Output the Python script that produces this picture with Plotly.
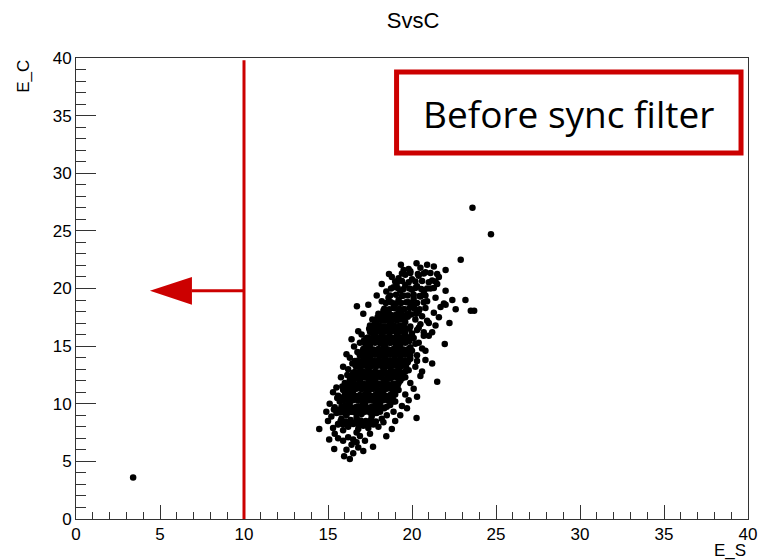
import plotly.graph_objects as go

# Event energies: scintillation (E_S) vs Cherenkov (E_C)
E_S = [
    15.96, 16.3, 16.5, 16.1, 15.37, 17.68, 16.8, 16.4, 17.1, 16.7,
    15.07, 15.6, 15.9, 16.2, 16.5, 16.9, 17.2, 18.47, 15.4, 16.7, 17.5,
    14.48, 15.3, 15.6, 15.9, 16.2, 16.5, 16.8, 17.1, 17.4, 17.7, 18.0, 18.3, 20.27,
    15.2, 15.5, 15.8, 16.1, 16.4, 16.7, 17.0, 17.3, 17.6, 17.9, 18.2, 18.5, 18.9, 19.3,
    15.1, 15.4, 15.7, 16.0, 16.3, 16.6, 16.9, 17.2, 17.5, 17.8, 18.1, 18.4, 18.7, 19.0, 19.4, 19.8,
    15.3, 15.6, 15.9, 16.2, 16.5, 16.8, 17.1, 17.4, 17.7, 18.0, 18.3, 18.6, 18.9, 19.2, 19.6, 20.1,
    15.77, 16.0, 16.3, 16.6, 16.9, 17.2, 17.5, 17.8, 18.1, 18.4, 18.7, 19.0, 19.3, 19.6, 19.9, 21.5,
    16.2, 16.5, 16.8, 17.1, 17.4, 17.7, 18.0, 18.3, 18.6, 18.9, 19.2, 19.5, 19.8, 20.2, 20.6,
    16.3, 16.6, 16.9, 17.2, 17.5, 17.8, 18.1, 18.4, 18.7, 19.0, 19.3, 19.6, 19.9, 20.3, 20.8,
    16.55, 16.9, 17.2, 17.5, 17.8, 18.1, 18.4, 18.7, 19.0, 19.3, 19.6, 19.9, 20.2, 20.6, 21.95,
    17.0, 17.3, 17.6, 17.9, 18.2, 18.5, 18.8, 19.1, 19.4, 19.7, 20.0, 20.3, 20.7, 21.2,
    17.64, 17.5, 17.8, 18.1, 18.4, 18.7, 19.0, 19.3, 19.6, 19.9, 20.2, 20.5, 20.9, 22.23, 21.4,
    16.72, 18.0, 18.3, 18.6, 18.9, 19.2, 19.5, 19.8, 20.1, 20.4, 20.8, 21.3, 21.7, 23.5, 23.7,
    18.2, 18.6, 18.9, 19.2, 19.5, 19.8, 20.1, 20.5, 20.9, 21.4, 21.9, 23.18, 22.4,
    18.47, 18.9, 19.3, 19.6, 20.0, 20.3, 20.7, 21.1, 21.5, 22.0, 19.1,
    18.63, 19.2, 19.6, 20.0, 20.4, 20.8, 21.2, 21.6, 22.0, 19.9,
    19.34, 20.27, 20.9, 19.8, 20.5, 21.3, 22.9, 23.6, 24.7, 3.4,
    15.75, 16.05, 16.35, 16.65, 16.95, 17.25, 17.55, 17.85,
    15.35, 15.65, 15.95, 16.25, 16.55, 16.85, 17.15, 17.45, 17.75, 18.05, 18.35,
    15.55, 15.85, 16.15, 16.45, 16.75, 17.05, 17.35, 17.65, 17.95, 18.25, 18.55, 18.85,
    15.85, 16.15, 16.45, 16.75, 17.05, 17.35, 17.65, 17.95, 18.25, 18.55, 18.85, 19.15,
    16.15, 16.45, 16.75, 17.05, 17.35, 17.65, 17.95, 18.25, 18.55, 18.85, 19.15, 19.45,
    16.45, 16.75, 17.05, 17.35, 17.65, 17.95, 18.25, 18.55, 18.85, 19.15, 19.45, 19.75,
    16.75, 17.05, 17.35, 17.65, 17.95, 18.25, 18.55, 18.85, 19.15, 19.45, 19.75,
    17.15, 17.45, 17.75, 18.05, 18.35, 18.65, 18.95, 19.25, 19.55, 19.85,
    17.45, 17.75, 18.05, 18.35, 18.65, 18.95, 19.25, 19.55, 19.85,
    17.95, 18.25, 18.55, 18.85, 19.15, 19.45, 19.75,
    15.6, 15.9, 16.2, 16.5, 16.8, 17.1, 17.4, 17.7,
    15.7, 16.0, 16.3, 16.6, 16.9, 17.2, 17.5, 17.8, 18.1,
    15.8, 16.1, 16.4, 16.7, 17.0, 17.3, 17.6, 17.9, 18.2, 18.5,
    15.9, 16.2, 16.5, 16.8, 17.1, 17.4, 17.7, 18.0, 18.3, 18.6, 18.9,
    16.0, 16.3, 16.6, 16.9, 17.2, 17.5, 17.8, 18.1, 18.4, 18.7, 19.0,
    16.1, 16.4, 16.7, 17.0, 17.3, 17.6, 17.9, 18.2, 18.5, 18.8, 19.1,
    16.2, 16.5, 16.8, 17.1, 17.4, 17.7, 18.0, 18.3, 18.6, 18.9, 19.2,
    16.4, 16.7, 17.0, 17.3, 17.6, 17.9, 18.2, 18.5, 18.8, 19.1, 19.4,
    16.6, 16.9, 17.2, 17.5, 17.8, 18.1, 18.4, 18.7, 19.0, 19.3, 19.6,
    16.65, 16.95, 17.25, 17.55, 17.85, 18.15, 18.45, 18.75, 19.05, 19.35, 19.65,
    16.8, 17.1, 17.4, 17.7, 18.0, 18.3, 18.6, 18.9, 19.2, 19.5, 19.8,
    16.9, 17.2, 17.5, 17.8, 18.1, 18.4, 18.7, 19.0, 19.3, 19.6, 19.9,
    17.1, 17.4, 17.7, 18.0, 18.3, 18.6, 18.9, 19.2, 19.5, 19.8,
    17.2, 17.5, 17.8, 18.1, 18.4, 18.7, 19.0, 19.3, 19.6,
    17.4, 17.7, 18.0, 18.3, 18.6, 18.9, 19.2, 19.5, 19.8,
    17.5, 17.8, 18.1, 18.4, 18.7, 19.0, 19.3, 19.6,
    17.7, 18.0, 18.3, 18.6, 18.9, 19.2, 19.5,
    17.9, 18.2, 18.5, 18.8, 19.1, 19.4,
    15.9, 16.1, 16.4, 16.8, 17.1, 17.4, 17.9, 18.2, 18.8, 19.5, 21.6, 22.0,
    22.6, 21.0, 20.8, 21.2, 20.5, 20.3, 19.7, 19.0, 18.8, 15.0, 14.9, 15.5,
    18.15, 18.45, 18.75, 19.05, 19.35, 19.65, 19.95, 20.25,
    18.35, 18.65, 18.95, 19.25, 19.55, 19.85, 20.15, 20.45,
    18.45, 18.75, 19.05, 19.35, 19.65, 19.95, 20.3, 20.7,
    18.7, 19.05, 19.4, 19.75, 20.1, 20.45, 20.8,
    18.75, 19.15, 19.5, 19.85, 20.2, 20.55, 20.9, 21.3,
    19.0, 19.4, 19.8, 20.2, 20.6, 21.0, 21.4,
    19.4, 19.9, 20.35, 20.7, 21.1, 21.5,
    20.1, 20.4, 20.6, 20.0, 20.4, 20.7, 21.0, 20.3,
]
E_C = [
    5.44, 5.2, 5.7, 6.0, 6.08, 6.26, 6.2, 6.45, 5.9, 6.65,
    6.9, 7.0, 6.8, 7.1, 6.9, 7.2, 6.8, 7.18, 7.4, 7.5, 7.4,
    7.8, 7.9, 8.2, 7.7, 8.0, 8.3, 7.8, 8.1, 7.9, 8.3, 8.0, 8.4, 8.77,
    8.9, 9.2, 8.7, 9.0, 9.3, 8.8, 9.1, 9.4, 8.9, 9.2, 8.7, 9.0, 9.3, 9.0,
    10.0, 9.7, 10.2, 9.8, 10.1, 10.4, 9.7, 10.0, 10.3, 9.8, 10.1, 10.4, 9.9, 10.2, 9.8, 10.3,
    11.0, 10.7, 11.2, 10.8, 11.1, 11.4, 10.7, 11.0, 11.3, 10.8, 11.1, 11.4, 10.9, 11.2, 10.8, 11.3,
    12.3, 11.8, 12.1, 11.7, 12.0, 12.3, 11.8, 12.1, 12.4, 11.9, 12.2, 11.7, 12.0, 12.3, 11.8, 11.9,
    13.0, 12.7, 13.2, 12.8, 13.1, 13.4, 12.7, 13.0, 13.3, 12.8, 13.1, 13.4, 12.9, 13.2, 12.8,
    14.0, 13.7, 14.2, 13.8, 14.1, 14.4, 13.7, 14.0, 14.3, 13.8, 14.1, 14.4, 13.9, 14.2, 13.8,
    14.97, 15.3, 14.8, 15.1, 15.4, 14.7, 15.0, 15.3, 14.8, 15.1, 15.4, 14.9, 15.2, 14.8, 15.18,
    16.0, 15.7, 16.2, 15.8, 16.1, 16.4, 15.7, 16.0, 16.3, 15.8, 16.1, 16.4, 15.9, 16.2,
    17.3, 16.8, 17.0, 16.7, 17.2, 16.9, 17.4, 16.8, 17.1, 16.7, 17.3, 16.9, 17.2, 17.0, 16.8,
    18.47, 17.8, 18.1, 17.7, 18.3, 17.9, 18.2, 17.8, 18.4, 18.0, 18.3, 17.9, 18.4, 18.07, 18.07,
    18.9, 19.2, 18.7, 19.0, 19.4, 18.8, 19.1, 19.3, 18.9, 19.2, 18.7, 19.0, 19.0,
    19.74, 20.1, 19.8, 20.3, 19.9, 20.2, 19.7, 20.0, 20.4, 19.8, 20.5,
    21.25, 20.9, 21.2, 20.8, 21.1, 21.4, 20.7, 21.0, 21.6, 21.5,
    22.05, 22.2, 22.05, 21.7, 21.8, 21.9, 22.5, 27.0, 24.7, 3.6,
    8.5, 8.45, 8.6, 8.4, 8.55, 8.5, 8.6, 8.45,
    9.5, 9.45, 9.6, 9.5, 9.45, 9.55, 9.6, 9.5, 9.45, 9.55, 9.6,
    10.5, 10.55, 10.45, 10.6, 10.5, 10.45, 10.55, 10.6, 10.5, 10.45, 10.6, 10.5,
    11.5, 11.55, 11.45, 11.6, 11.5, 11.45, 11.55, 11.6, 11.5, 11.45, 11.55, 11.6,
    12.5, 12.55, 12.45, 12.6, 12.5, 12.45, 12.55, 12.6, 12.5, 12.45, 12.55, 12.6,
    13.5, 13.55, 13.45, 13.6, 13.5, 13.45, 13.55, 13.6, 13.5, 13.45, 13.55, 13.6,
    14.5, 14.55, 14.45, 14.6, 14.5, 14.45, 14.55, 14.6, 14.5, 14.45, 14.55,
    15.5, 15.55, 15.45, 15.6, 15.5, 15.45, 15.55, 15.6, 15.5, 15.45,
    16.5, 16.55, 16.45, 16.6, 16.5, 16.45, 16.55, 16.6, 16.5,
    17.5, 17.55, 17.45, 17.6, 17.5, 17.45, 17.55,
    8.25, 8.2, 8.3, 8.25, 8.2, 8.3, 8.25, 8.2,
    9.25, 9.2, 9.3, 9.25, 9.2, 9.3, 9.25, 9.2, 9.3,
    9.75, 9.8, 9.7, 9.75, 9.8, 9.7, 9.75, 9.8, 9.7, 9.75,
    10.25, 10.2, 10.3, 10.25, 10.2, 10.3, 10.25, 10.2, 10.3, 10.25, 10.2,
    10.75, 10.8, 10.7, 10.75, 10.8, 10.7, 10.75, 10.8, 10.7, 10.75, 10.8,
    11.25, 11.2, 11.3, 11.25, 11.2, 11.3, 11.25, 11.2, 11.3, 11.25, 11.2,
    11.75, 11.8, 11.7, 11.75, 11.8, 11.7, 11.75, 11.8, 11.7, 11.75, 11.8,
    12.25, 12.2, 12.3, 12.25, 12.2, 12.3, 12.25, 12.2, 12.3, 12.25, 12.2,
    12.75, 12.8, 12.7, 12.75, 12.8, 12.7, 12.75, 12.8, 12.7, 12.75, 12.8,
    13.25, 13.2, 13.3, 13.25, 13.2, 13.3, 13.25, 13.2, 13.3, 13.25, 13.2,
    13.75, 13.8, 13.7, 13.75, 13.8, 13.7, 13.75, 13.8, 13.7, 13.75, 13.8,
    14.25, 14.2, 14.3, 14.25, 14.2, 14.3, 14.25, 14.2, 14.3, 14.25, 14.2,
    14.75, 14.8, 14.7, 14.75, 14.8, 14.7, 14.75, 14.8, 14.7, 14.75,
    15.25, 15.2, 15.3, 15.25, 15.2, 15.3, 15.25, 15.2, 15.3,
    15.75, 15.8, 15.7, 15.75, 15.8, 15.7, 15.75, 15.8, 15.7,
    16.25, 16.2, 16.3, 16.25, 16.2, 16.3, 16.25, 16.2,
    16.75, 16.8, 16.7, 16.75, 16.8, 16.7, 16.75,
    17.25, 17.2, 17.3, 17.25, 17.2, 17.3,
    13.2, 14.3, 15.6, 16.3, 17.8, 18.6, 19.4, 20.4, 21.0, 21.6, 17.5, 18.6,
    18.2, 15.9, 14.6, 13.5, 12.4, 10.6, 9.6, 8.5, 7.8, 8.5, 9.3, 11.4,
    17.75, 17.8, 17.7, 17.75, 17.8, 17.7, 17.75, 17.8,
    18.25, 18.2, 18.3, 18.25, 18.2, 18.3, 18.25, 18.2,
    18.75, 18.8, 18.7, 18.75, 18.8, 18.7, 18.75, 18.8,
    19.4, 19.45, 19.35, 19.4, 19.45, 19.35, 19.4,
    20.0, 20.05, 19.95, 20.0, 20.05, 19.95, 20.0, 20.05,
    20.6, 20.65, 20.55, 20.6, 20.65, 20.55, 20.6,
    21.3, 21.35, 21.25, 21.3, 21.35, 21.25,
    15.7, 16.6, 17.6, 14.6, 15.3, 16.2, 17.0, 13.7,
]
assert len(E_S) == len(E_C)

# Sync-filter cut on E_S and the direction of rejected events
CUT_ES = 10.0
ARROW_EC = 19.8
ARROW_TIP_ES = 4.4
ARROW_BASE_ES = 6.9
CUT_TOP_EC = 39.8

RED = "#cc0000"
AXIS = "#333333"
TICK_FONT = dict(family="Liberation Sans, Arial, sans-serif", size=17, color="black")

fig = go.Figure(
    go.Scatter(
        x=E_S, y=E_C, mode="markers",
        marker=dict(color="black", size=6.5, line=dict(width=0)),
        hoverinfo="x+y", showlegend=False,
    )
)

axis_common = dict(
    range=[0, 40], dtick=5, tick0=0,
    showgrid=False, zeroline=False,
    showline=True, mirror=True, linecolor=AXIS, linewidth=1,
    ticks="inside", tickcolor=AXIS, tickwidth=1,
    tickfont=TICK_FONT,
)
fig.update_xaxes(**axis_common, ticklen=14,
                 minor=dict(dtick=1, ticks="inside", ticklen=7, tickcolor=AXIS, showgrid=False))
fig.update_yaxes(**axis_common, ticklen=20,
                 minor=dict(dtick=1, ticks="inside", ticklen=10, tickcolor=AXIS, showgrid=False))

shapes = [
    # cut line
    dict(type="line", xref="x", yref="y", x0=CUT_ES, x1=CUT_ES, y0=0, y1=CUT_TOP_EC,
         line=dict(color=RED, width=3)),
    # arrow shaft
    dict(type="line", xref="x", yref="y", x0=CUT_ES, x1=ARROW_BASE_ES, y0=ARROW_EC, y1=ARROW_EC,
         line=dict(color=RED, width=3)),
    # arrow head
    dict(type="path", xref="x", yref="y",
         path=f"M {ARROW_BASE_ES},{ARROW_EC + 1.2} L {ARROW_TIP_ES},{ARROW_EC} L {ARROW_BASE_ES},{ARROW_EC - 1.2} Z",
         fillcolor=RED, line=dict(color=RED, width=0)),
    # label box
    dict(type="rect", xref="paper", yref="paper",
         x0=(398 - 76) / 675, x1=(744 - 76) / 675,
         y0=(519 - 153) / 461, y1=(519 - 72) / 461,
         line=dict(color=RED, width=5), fillcolor="white", layer="above"),
]

annotations = [
    dict(text="Before sync filter", xref="paper", yref="paper",
         x=(571 - 76) / 675, y=(519 - 113) / 461, xanchor="center", yanchor="middle",
         showarrow=False, font=dict(family="Open Sans, Noto Sans, sans-serif", size=37, color="black")),
    dict(text="E_C", xref="paper", yref="paper", x=(23 - 76) / 675, y=1.0,
         xanchor="center", yanchor="top", textangle=-90, showarrow=False,
         font=TICK_FONT),
    dict(text="E_S", xref="paper", yref="paper", x=1.0, y=(519 - 550) / 461,
         xanchor="right", yanchor="middle", showarrow=False, font=TICK_FONT),
]

fig.update_layout(
    width=769, height=560,
    margin=dict(l=76, r=18, t=58, b=41),
    paper_bgcolor="white", plot_bgcolor="white",
    title=dict(text="SvsC", x=413 / 769, y=1 - 20 / 560, xanchor="center", yanchor="middle",
               font=dict(family="Liberation Sans, Arial, sans-serif", size=22, color="black")),
    shapes=shapes, annotations=annotations,
)

fig.write_html("out.html")
